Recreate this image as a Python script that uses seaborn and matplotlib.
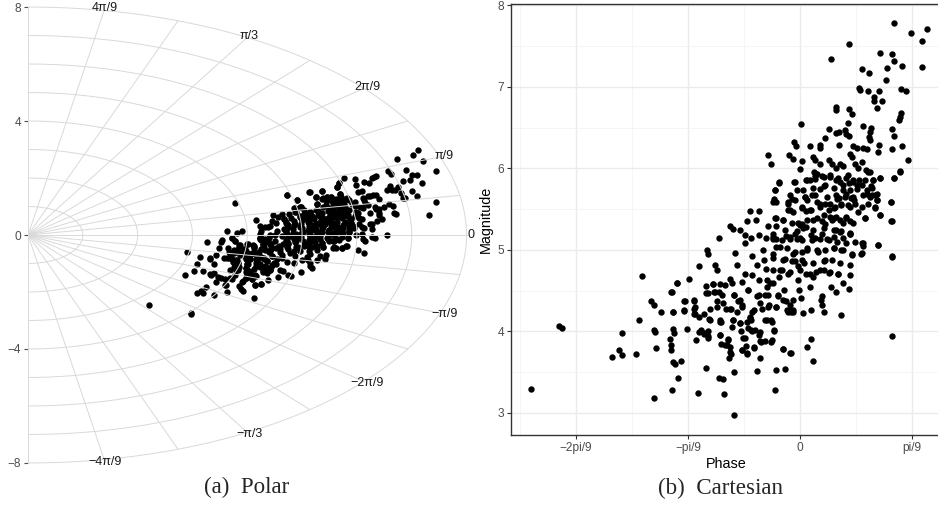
import numpy as np
import pandas as pd
import matplotlib
matplotlib.use("Agg")
import matplotlib.pyplot as plt
import seaborn as sns

# ---------------------------------------------------------------------------
# Data: phase (degrees) and magnitude
# ---------------------------------------------------------------------------
lower_phase = [
    -48.1, -43.0, -42.5, -33.5, -32.4, -31.8, -31.7, -29.3, -28.8, -28.2,
    -26.6, -26.1, -26.0, -26.0, -25.9, -25.7, -24.9, -23.3, -23.0, -23.0,
    -23.0, -22.8, -22.7, -22.7, -22.5, -22.7, -22.4, -21.9, -21.8, -21.3,
    -20.8, -20.7, -20.2, -19.8, -18.9, -18.9, -18.8, -18.5, -18.2, -18.0,
    -18.0, -17.7, -17.1, -16.8, -16.6, -16.4, -16.5, -16.7, -16.4, -16.0,
    -16.3, -15.6, -15.4, -15.2, -14.9, -14.8, -14.5, -13.8, -14.3, -14.1,
    -14.5, -14.2, -14.1, -13.6, -13.3, -13.1, -12.9, -12.7, -12.5, -12.3,
    -12.5, -12.3, -12.1, -11.9, -11.8, -11.7, -11.8, -11.6, -11.2, -11.0,
    -10.8, -10.6, -10.4, -10.4, -10.1, -9.9, -9.8, -9.6, -9.5, -9.3,
    -9.2, -8.9, -8.8, -8.8, -8.5, -8.6, -8.5, -8.2, -8.2, -8.0,
    -7.7, -7.6, -7.6, -7.4, -7.3, -7.1, -7.0, -6.8, -6.6, -6.4,
    -6.3, -6.0, -5.9, -5.8, -5.8, -5.2, -5.1, -4.8, -4.9, -4.9,
    -4.8, -4.6, -4.5, -4.3, -4.2, -3.9, -3.7, -3.5, -3.3, -3.0,
    -2.8, -2.7, -2.6, -2.5, -2.4, -2.1, -1.9, -1.6, -1.7, -1.3,
    -1.2, -1.2, -0.9, -0.6, -0.4, -0.3, -0.2, 0.2, 0.3, 0.6,
    0.7, 1.1, 1.2, 1.3, 1.8, 1.9, 2.0, 2.4, 2.4, 2.9,
    3.3, 3.7, 4.0, 3.9, 4.2, 4.2, 4.5, 5.1, 5.5, 6.0,
    6.4, 6.7, 7.4, 7.7, 7.6, 8.8, 9.0, 9.2, 11.0, 11.2,
    10.9, 13.9, 16.4, 16.4,
]
lower_mag = [
    3.30, 4.07, 4.04, 3.69, 3.77, 3.71, 3.98, 3.72, 4.14, 4.68,
    4.38, 4.33, 3.19, 4.02, 3.99, 3.80, 4.24, 3.91, 4.49, 3.83,
    3.77, 3.28, 4.24, 4.03, 3.98, 3.62, 3.60, 4.59, 3.43, 3.64,
    4.25, 4.37, 4.03, 4.65, 4.37, 4.28, 4.22, 3.89, 3.25, 4.80,
    4.18, 4.02, 3.97, 3.55, 5.00, 4.95, 3.92, 4.47, 4.01, 4.28,
    4.15, 4.58, 4.48, 4.82, 4.76, 4.30, 3.43, 3.42, 4.14, 4.12,
    4.48, 3.96, 3.85, 3.23, 4.28, 3.83, 3.91, 3.67, 3.75, 3.72,
    4.64, 4.27, 4.06, 4.14, 4.45, 3.50, 2.97, 4.96, 4.81, 4.38,
    4.11, 4.00, 3.77, 4.30, 3.92, 5.08, 4.71, 3.82, 3.72, 4.51,
    4.04, 4.17, 4.14, 4.02, 4.00, 4.93, 4.69, 4.26, 3.80, 4.02,
    4.82, 3.52, 4.44, 4.63, 3.96, 3.68, 3.87, 4.28, 5.00, 4.88,
    4.14, 4.77, 4.63, 4.45, 4.30, 4.14, 3.87, 5.16, 4.95, 4.75,
    4.59, 4.02, 3.28, 4.30, 3.53, 4.43, 4.67, 5.04, 4.75, 3.79,
    4.51, 3.54, 4.89, 4.37, 4.26, 4.71, 4.26, 4.24, 3.73, 4.95,
    4.39, 4.24, 4.86, 5.14, 4.80, 4.63, 4.51, 4.41, 4.98, 4.23,
    4.84, 4.71, 3.81, 5.00, 4.55, 4.26, 3.91, 3.64, 4.67, 4.73,
    4.97, 4.39, 4.43, 4.33, 4.24, 4.75, 4.88, 4.72, 4.54, 5.02,
    4.48, 4.71, 4.20, 4.60, 5.00, 4.52, 5.20, 4.95, 5.08, 5.05,
    4.95, 5.06, 4.93, 3.94,
]

upper_phase = [
    16.7, 19.8, 22.7, 21.7, 8.8, 21.7, 5.5, 14.3, 16.5, 16.8,
    18.2, 15.5, 11.0, 12.4, 15.4, 10.6, 10.7, 12.1, 14.1, 18.0,
    19.0, 13.2, 13.3, 14.6, 13.7, 6.4, 6.5, 8.8, 9.3, 18.1,
    17.9, 17.7, 8.6, 0.1, 11.2, 12.6, 12.5, 16.4, 5.1, 6.4,
    7.0, 8.0, 8.3, 8.8, 16.8, 12.4, 12.5, 4.5, 3.5, 6.9,
    -1.1, -0.8, 1.8, 9.5, 10.2, 11.2, 12.0, 14.1, 18.3, 3.6,
    14.0, 16.4, 8.9, 9.2, -2.0, -1.2, 2.3, 2.7, -5.8, 19.3,
    0.4, 5.2, 5.7, 7.2, 7.7, 9.8, -5.1, 3.6, 11.1, 0.0,
    6.5, 10.4, 11.7, 12.5, 2.5, 3.0, 17.9, 4.0, 5.4, 8.3,
    14.2, 16.8, 1.1, 1.8, 2.7, 6.4, 7.1, 8.8, 9.5, 10.6,
    13.1, -3.8, -1.0, 4.2, 3.6, 12.7, -4.5, -0.6, 7.7, 8.3,
    10.2, 11.9, 12.8, 13.7, 2.7, 6.4, 7.0, -4.6, -4.2, 0.9,
    1.2, 9.1, 9.6, 13.7, 16.2, -2.2, -1.5, 3.6, 4.5, 5.4,
    7.4, 8.6, 13.4, -7.3, -8.9, -2.1, 0.4, 1.1, 2.0, 6.1,
    10.3, 14.3, -1.2, 5.4, 6.0, 6.5, 8.2, 8.9, 16.2, -12.5,
    -11.9, -10.8, -9.5, -7.9, -5.8, -3.0, -4.3, -0.3, 0.3, 1.0,
    2.4, 3.9, 4.5, 7.7, 6.5, 7.1, 11.6, 8.9, -14.5, -9.8,
    -8.8, -7.3, -6.1, -4.8, -4.2, -2.5, -1.8, -0.9, 0.0, 1.9,
    2.7, 3.9, 4.8, 6.0, 7.7,
]
upper_mag = [
    7.78, 7.66, 7.71, 7.56, 7.53, 7.24, 7.34, 7.42, 7.40, 7.32,
    7.26, 7.23, 7.22, 7.17, 7.09, 6.99, 6.96, 6.95, 6.95, 6.97,
    6.95, 6.88, 6.83, 6.83, 6.74, 6.75, 6.72, 6.73, 6.67, 6.68,
    6.63, 6.59, 6.56, 6.54, 6.52, 6.50, 6.45, 6.48, 6.48, 6.44,
    6.45, 6.47, 6.42, 6.40, 6.40, 6.39, 6.35, 6.38, 6.29, 6.29,
    6.33, 6.28, 6.27, 6.28, 6.25, 6.25, 6.24, 6.29, 6.28, 6.25,
    6.20, 6.24, 6.18, 6.14, 6.16, 6.12, 6.14, 6.10, 6.16, 6.10,
    6.09, 6.11, 6.06, 6.06, 6.03, 6.06, 6.05, 6.05, 6.08, 5.99,
    6.00, 6.00, 5.98, 5.96, 5.96, 5.93, 5.97, 5.91, 5.90, 5.88,
    5.88, 5.88, 5.86, 5.86, 5.87, 5.86, 5.84, 5.82, 5.84, 5.86,
    5.86, 5.82, 5.84, 5.79, 5.75, 5.79, 5.74, 5.73, 5.73, 5.69,
    5.75, 5.69, 5.68, 5.69, 5.67, 5.67, 5.64, 5.63, 5.59, 5.65,
    5.61, 5.64, 5.61, 5.61, 5.59, 5.59, 5.63, 5.57, 5.56, 5.56,
    5.57, 5.55, 5.52, 5.48, 5.48, 5.49, 5.52, 5.48, 5.49, 5.51,
    5.47, 5.43, 5.46, 5.41, 5.39, 5.41, 5.41, 5.36, 5.35, 5.30,
    5.26, 5.24, 5.35, 5.37, 5.30, 5.37, 5.39, 5.33, 5.32, 5.28,
    5.37, 5.35, 5.32, 5.33, 5.24, 5.22, 5.39, 5.20, 5.15, 5.18,
    5.15, 5.18, 5.15, 5.20, 5.14, 5.17, 5.13, 5.20, 5.15, 5.18,
    5.15, 5.20, 5.14, 5.16, 5.15,
]

core_phase = [
    -3.7, -4.5, -0.9, 1.2, 2.7, 4.2, 5.4, 6.8, 8.6, 9.5,
    10.2, 0.6, 2.4, 4.5, 6.0, 7.7, 8.9, -1.8, -0.9, 0.9,
    2.1, 3.0, 4.8, 6.6, 8.0, 9.5, -4.8, -2.1, -1.8, 0.3,
    1.8, 3.6, 5.1, 6.3, 7.4, 8.9, 9.8, -4.5, -3.0, -1.5,
    0.0, 1.2, 3.0, 4.2, 5.7, 7.1, 8.3, 9.5, -4.2, -2.7,
    -0.6, 0.6, 2.4, 4.2, 6.0, 7.4, 8.9, -4.8, -3.3, -1.8,
    0.3, 2.1, 3.6, 5.1, 6.6, 8.3, 9.8, -4.2, -2.4, -0.9,
    1.2, 3.0, 4.5, 6.0, 7.4, 9.2, -4.8, -3.0, -1.5, 0.3,
    2.4, 4.2, 5.7, 7.1, 8.9, -3.6, -1.8, 0.0, 1.8, 3.6,
    5.4, 6.8, 8.9,
]
core_mag = [
    5.83, 5.74, 5.84, 5.86, 5.91, 5.90, 5.92, 5.88, 5.92, 5.86,
    5.80, 5.74, 5.76, 5.80, 5.76, 5.80, 5.74, 5.68, 5.61, 5.65,
    5.68, 5.59, 5.65, 5.63, 5.65, 5.65, 5.59, 5.57, 5.49, 5.53,
    5.49, 5.53, 5.49, 5.53, 5.55, 5.53, 5.57, 5.39, 5.37, 5.33,
    5.31, 5.37, 5.39, 5.43, 5.37, 5.37, 5.39, 5.33, 5.29, 5.25,
    5.23, 5.27, 5.25, 5.27, 5.25, 5.23, 5.21, 5.14, 5.12, 5.16,
    5.12, 5.12, 5.14, 5.12, 5.10, 5.08, 5.10, 5.04, 5.02, 4.98,
    5.02, 5.00, 5.00, 5.02, 5.00, 4.94, 4.90, 4.88, 4.86, 4.88,
    4.84, 4.86, 4.88, 4.84, 4.82, 4.75, 4.73, 4.75, 4.71, 4.75,
    4.73, 4.71, 4.69,
]

left_phase = [
    -22.0, -22.9, -20.5, -22.6, -20.7, -18.9, -18.7, -19.0, -16.8, -15.6,
    -14.3, -13.4, -12.2, -10.4, -16.5, -15.2, -14.0, -11.8, -9.2, -7.4,
    -5.9, -5.3, -6.2, -3.9, -17.2, -16.1, -14.3, -14.9, -13.7, -12.5,
    -11.3, -10.7, -10.4, -8.6, -8.9, -7.1, -5.6, -4.2, -3.0, -1.8,
    -1.2, -2.1, -11.9, -10.7, -9.5, -5.9, -5.0, -18.1, -17.2, -16.5,
    -14.3, -12.8, -12.5, -10.4, -9.5, -8.3, -7.1, -6.2, -5.0, -9.8,
    -13.4, -3.0, -1.6, -7.1, -4.6,
]
left_mag = [
    4.59, 4.49, 4.37, 4.24, 4.26, 4.39, 4.30, 4.22, 4.56, 4.58,
    4.58, 4.57, 4.59, 4.61, 4.47, 4.48, 4.45, 4.45, 4.51, 4.45,
    4.55, 4.59, 4.45, 4.45, 4.22, 4.14, 4.12, 4.37, 4.35, 4.28,
    4.24, 4.39, 4.33, 4.24, 4.18, 4.35, 4.33, 4.30, 4.39, 4.33,
    4.26, 4.24, 4.14, 4.10, 4.12, 4.14, 4.12, 3.99, 3.98, 3.94,
    3.96, 3.90, 3.81, 3.77, 3.73, 3.81, 3.88, 3.88, 3.89, 3.92,
    3.84, 3.79, 3.73, 3.99, 4.01,
]

right_phase = [
    12.2, 11.6, 13.1, 11.0, 11.9, 12.8, 11.3, 12.5, 13.4, 13.7,
    12.2, 14.3, 16.7, 17.8, 16.2, 11.0, 13.4, 11.6, 14.3, 16.4,
    11.3, 14.0, 11.0, 16.4,
]
right_mag = [
    5.96, 5.86, 5.86, 5.80, 5.74, 5.76, 5.68, 5.65, 5.68, 5.61,
    5.57, 5.88, 5.88, 5.96, 5.59, 5.53, 5.53, 5.39, 5.43, 5.35,
    5.08, 5.06, 4.96, 4.92,
]

# Polar panel: circle radii, spoke spacing and angle labels
RING_RADII = [1, 2, 3, 4, 5, 6, 7, 8]
SPOKE_STEPS = list(range(-9, 10))  # multiples of pi/18
ANGLE_STEPS = [-4, -3, -2, -1, 0, 1, 2, 3, 4]  # multiples of pi/9
ANGLE_LABELS = ["\u22124\u03c0/9", "\u2212\u03c0/3", "\u22122\u03c0/9", "\u2212\u03c0/9", "0",
                "\u03c0/9", "2\u03c0/9", "\u03c0/3", "4\u03c0/9"]
POLAR_YTICKS = [-8, -4, 0, 4, 8]

# Cartesian panel ticks
PHASE_TICKS = [-2 * np.pi / 9, -np.pi / 9, 0, np.pi / 9]
PHASE_TICK_LABELS = ["\u22122pi/9", "\u2212pi/9", "0", "pi/9"]
PHASE_MINOR = [-5 * np.pi / 18, -3 * np.pi / 18, -np.pi / 18, np.pi / 18]
MAG_TICKS = [3, 4, 5, 6, 7, 8]
MAG_MINOR = [3.5, 4.5, 5.5, 6.5, 7.5]

phase_deg = np.concatenate([lower_phase, upper_phase, core_phase, left_phase, right_phase])
magnitude = np.concatenate([lower_mag, upper_mag, core_mag, left_mag, right_mag])

df = pd.DataFrame({"phase": np.deg2rad(phase_deg), "magnitude": magnitude})
df["re"] = df["magnitude"] * np.cos(df["phase"])
df["im"] = df["magnitude"] * np.sin(df["phase"])

# ---------------------------------------------------------------------------
# Figure
# ---------------------------------------------------------------------------
sns.set_theme(style="white")
plt.rcParams["font.family"] = ["Liberation Sans", "DejaVu Sans"]
plt.rcParams["axes.unicode_minus"] = True

TICK_GREY = "#4d4d4d"
GRID_POLAR = "#d9d9d9"

fig = plt.figure(figsize=(9.38, 5.08), dpi=100)
ax1 = fig.add_axes([0.0299, 0.0774, 0.485, 0.920])
ax2 = fig.add_axes([0.5448, 0.1437, 0.4584, 0.8484])

# --- (a) polar ---
sns.scatterplot(data=df, x="re", y="im", ax=ax1, color="black", s=21,
                linewidth=0, zorder=2, legend=False)
theta = np.linspace(-np.pi / 2, np.pi / 2, 400)
for r in RING_RADII:
    ax1.plot(r * np.cos(theta), r * np.sin(theta), color=GRID_POLAR, lw=0.7, zorder=3)
r_max = max(RING_RADII)
for k in SPOKE_STEPS:
    a = k * np.pi / 18
    ax1.plot([0, r_max * np.cos(a)], [0, r_max * np.sin(a)], color=GRID_POLAR, lw=0.7, zorder=3)
for k, lab in zip(ANGLE_STEPS, ANGLE_LABELS):
    a = k * np.pi / 9
    ax1.text(8.08 * np.cos(a), 8.08 * np.sin(a), lab, ha="center", va="center",
             fontsize=9, color="#1a1a1a", zorder=4, clip_on=False)

ax1.set_xlim(0, 8.3)
ax1.set_ylim(-8.2, 8.2)
ax1.set_xticks([])
ax1.set_yticks(POLAR_YTICKS)
ax1.tick_params(axis="y", left=True, length=3, width=0.8, color=TICK_GREY,
                labelcolor=TICK_GREY, labelsize=8.6, pad=2)
ax1.set_xlabel("")
ax1.set_ylabel("")
for sp in ax1.spines.values():
    sp.set_visible(False)

# --- (b) cartesian ---
sns.scatterplot(data=df, x="phase", y="magnitude", ax=ax2, color="black", s=21,
                linewidth=0, zorder=3, legend=False)
ax2.set_xlim(-0.9006, 0.4394)
ax2.set_ylim(2.73, 8.018)
ax2.set_xticks(PHASE_TICKS)
ax2.set_xticklabels(PHASE_TICK_LABELS)
ax2.set_xticks(PHASE_MINOR, minor=True)
ax2.set_yticks(MAG_TICKS)
ax2.set_yticks(MAG_MINOR, minor=True)
ax2.grid(which="major", color="#ebebeb", lw=1.0, zorder=0)
ax2.grid(which="minor", color="#f2f2f2", lw=0.5, zorder=0)
ax2.set_axisbelow(True)
ax2.tick_params(which="major", bottom=True, left=True, length=3, width=0.8,
                color="#333333", labelcolor=TICK_GREY, labelsize=8.6, pad=2)
ax2.tick_params(which="minor", length=0)
ax2.set_xlabel("Phase", fontsize=10.4, color="black", labelpad=2)
ax2.set_ylabel("Magnitude", fontsize=10.4, color="black", labelpad=3)
for sp in ax2.spines.values():
    sp.set_visible(True)
    sp.set_color("#333333")
    sp.set_linewidth(1.0)

# --- captions ---
fig.text(0.263, 0.041, "(a)  Polar", ha="center", va="center",
         fontsize=16.6, family=["Liberation Serif", "DejaVu Serif"])
fig.text(0.768, 0.039, "(b)  Cartesian", ha="center", va="center",
         fontsize=16.6, family=["Liberation Serif", "DejaVu Serif"])

fig.savefig("out.png", dpi=100)
plt.close(fig)
